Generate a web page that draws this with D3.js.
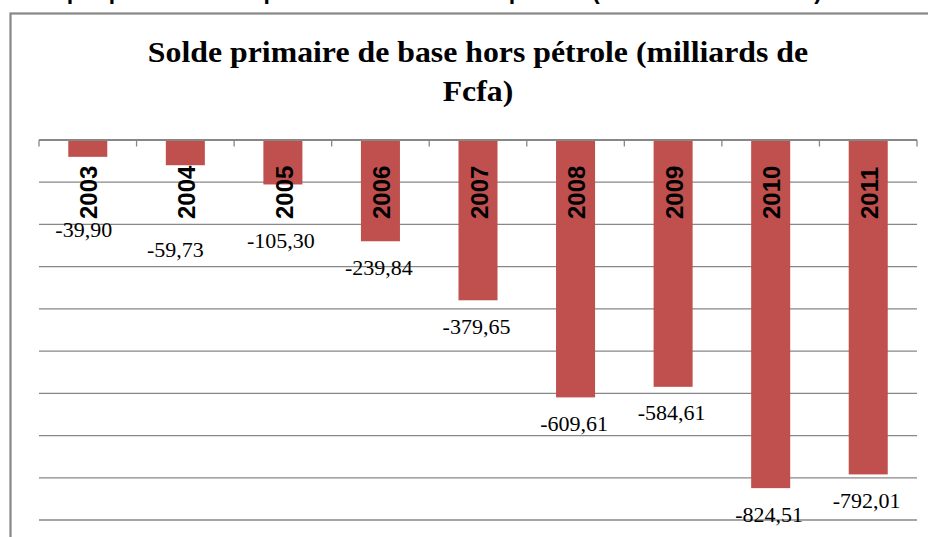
<!DOCTYPE html>
<html>
<head>
<meta charset="utf-8">
<script src="https://cdn.jsdelivr.net/npm/d3@7"></script>
<style>
  body { margin: 0; background: #fff; }
  svg { display: block; }
</style>
</head>
<body>
<script>
// Solde primaire de base hors pétrole, 2003-2011
const width = 928, height = 537;

const years = ["2003", "2004", "2005", "2006", "2007", "2008", "2009", "2010", "2011"];
const values = [-39.90, -59.73, -105.30, -239.84, -379.65, -609.61, -584.61, -824.51, -792.01];
const yDomain = [-900, 0];

const titleLines = ["Solde primaire de base hors pétrole (milliards de", "Fcfa)"];
const caption = "Graphique 13 : Solde primaire de base hors pétrole (en milliards de Fcfa)";

// étiquettes déplacées à la main (comme dans Excel) : [dx, dy sous la barre]
const labelNudge = { "2003": [-4, 80], "2004": [-10, 91.5], "2005": [-2, 63.5] };

const fr = d3.formatLocale({ decimal: ",", thousands: " ", grouping: [3], currency: ["", " €"], minus: "-" });
const fmt = fr.format(".2f");

const svg = d3.select("body").append("svg")
    .attr("width", width)
    .attr("height", height);

// légende du document, coupée en haut
svg.append("text")
    .attr("x", 822)
    .attr("y", -1)
    .attr("text-anchor", "end")
    .attr("font-family", "Liberation Sans, Arial, sans-serif")
    .attr("font-weight", "bold")
    .attr("font-size", "23px")
    .text(caption);

// cadre du graphique
svg.append("rect")
    .attr("x", 10.5)
    .attr("y", 13.5)
    .attr("width", 1000)
    .attr("height", 1000)
    .attr("fill", "none")
    .attr("stroke", "#878787")
    .attr("stroke-width", 2.2);

const x = d3.scaleBand()
    .domain(years)
    .range([39, 917])
    .paddingInner(0.6)
    .paddingOuter(0.3);

const y = d3.scaleLinear()
    .domain(yDomain)
    .range([520, 140]);

// quadrillage
svg.append("g")
    .selectAll("line")
    .data(y.ticks(9).filter(d => d !== 0))
    .enter().append("line")
    .attr("x1", 39)
    .attr("x2", 917)
    .attr("y1", d => y(d))
    .attr("y2", d => y(d))
    .attr("stroke", "#878787")
    .attr("stroke-width", 1.3);

// barres
svg.append("g")
    .selectAll("rect")
    .data(values)
    .enter().append("rect")
    .attr("x", (d, i) => x(years[i]))
    .attr("y", y(0))
    .attr("width", x.bandwidth())
    .attr("height", d => y(d) - y(0))
    .attr("fill", "#C0504D");

// axe des catégories en haut (valeur 0)
const axis = svg.append("g")
    .attr("transform", `translate(0,${y(0)})`);
axis.append("line")
    .attr("x1", 39)
    .attr("x2", 917)
    .attr("stroke", "#878787")
    .attr("stroke-width", 2);
const edges = years.map(d => x(d) - x.step() * x.paddingInner() / 2);
edges[0] = 39;
edges.push(917);
axis.selectAll("line.tick")
    .data(edges)
    .enter().append("line")
    .attr("class", "tick")
    .attr("x1", d => d)
    .attr("x2", d => d)
    .attr("y1", 0)
    .attr("y2", 6.5)
    .attr("stroke", "#878787")
    .attr("stroke-width", 1.3);

// années, verticales
svg.append("g")
    .selectAll("text")
    .data(years)
    .enter().append("text")
    .attr("transform", d => `translate(${x(d) + x.bandwidth() / 2 + 1},219) rotate(-90)`)
    .attr("dy", "0.36em")
    .attr("font-family", "Liberation Sans, Arial, sans-serif")
    .attr("font-weight", "bold")
    .attr("font-size", "24px")
    .text(d => d);

// valeurs
svg.append("g")
    .selectAll("text")
    .data(values)
    .enter().append("text")
    .attr("x", (d, i) => x(years[i]) + x.bandwidth() / 2 + (labelNudge[years[i]] || [-1.5, 33.5])[0])
    .attr("y", (d, i) => y(d) + (labelNudge[years[i]] || [-1.5, 33.5])[1])
    .attr("text-anchor", "middle")
    .attr("font-family", "Liberation Serif, Times New Roman, serif")
    .attr("font-size", "22px")
    .text(d => fmt(d));

// titre (légèrement élargi comme dans l'image)
svg.append("g")
    .selectAll("text")
    .data(titleLines)
    .enter().append("text")
    .attr("transform", (d, i) => `translate(478,${61.5 + i * 39.5}) scale(1.06,1)`)
    .attr("text-anchor", "middle")
    .attr("font-family", "Liberation Serif, Times New Roman, serif")
    .attr("font-weight", "bold")
    .attr("font-size", "30px")
    .text(d => d);
</script>
</body>
</html>
